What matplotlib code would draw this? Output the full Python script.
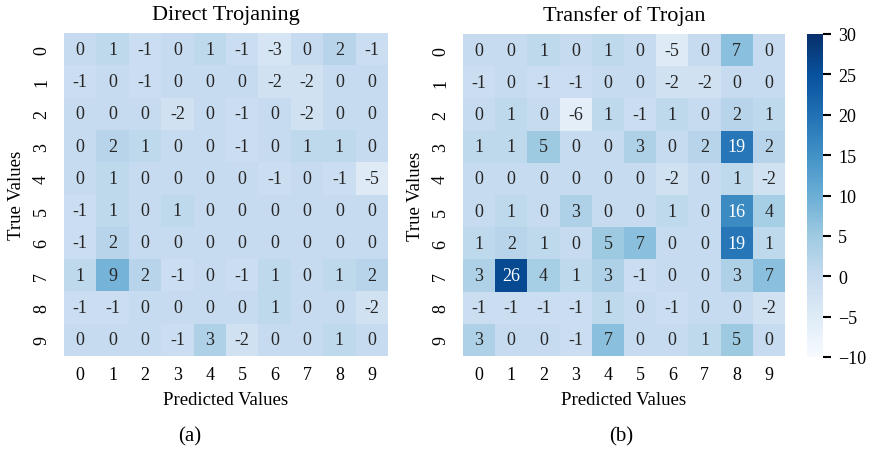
import numpy as np
import matplotlib
matplotlib.use("Agg")
import matplotlib.pyplot as plt
import seaborn as sns

plt.rcParams['font.family'] = ['Liberation Serif', 'DejaVu Serif']
plt.rcParams['axes.unicode_minus'] = True

labels = [str(i) for i in range(10)]

# difference matrices (rows: true class, cols: predicted class)
direct_trojaning = np.array([
    [0, 1, -1, 0, 1, -1, -3, 0, 2, -1],
    [-1, 0, -1, 0, 0, 0, -2, -2, 0, 0],
    [0, 0, 0, -2, 0, -1, 0, -2, 0, 0],
    [0, 2, 1, 0, 0, -1, 0, 1, 1, 0],
    [0, 1, 0, 0, 0, 0, -1, 0, -1, -5],
    [-1, 1, 0, 1, 0, 0, 0, 0, 0, 0],
    [-1, 2, 0, 0, 0, 0, 0, 0, 0, 0],
    [1, 9, 2, -1, 0, -1, 1, 0, 1, 2],
    [-1, -1, 0, 0, 0, 0, 1, 0, 0, -2],
    [0, 0, 0, -1, 3, -2, 0, 0, 1, 0],
])

transfer_trojan = np.array([
    [0, 0, 1, 0, 1, 0, -5, 0, 7, 0],
    [-1, 0, -1, -1, 0, 0, -2, -2, 0, 0],
    [0, 1, 0, -6, 1, -1, 1, 0, 2, 1],
    [1, 1, 5, 0, 0, 3, 0, 2, 19, 2],
    [0, 0, 0, 0, 0, 0, -2, 0, 1, -2],
    [0, 1, 0, 3, 0, 0, 1, 0, 16, 4],
    [1, 2, 1, 0, 5, 7, 0, 0, 19, 1],
    [3, 26, 4, 1, 3, -1, 0, 0, 3, 7],
    [-1, -1, -1, -1, 1, 0, -1, 0, 0, -2],
    [3, 0, 0, -1, 7, 0, 0, 1, 5, 0],
])

vmin, vmax = -10, 30

fig = plt.figure(figsize=(8.74, 4.6), dpi=100)
W, H = 874, 460
ax1 = fig.add_axes([64 / W, 1 - 357 / H, 324 / W, 323 / H])
ax2 = fig.add_axes([463 / W, 1 - 357 / H, 322 / W, 322 / H])
cax = fig.add_axes([807 / W, 1 - 358 / H, 16 / W, 323 / H])

annot_kws = {'fontsize': 13}
sns.heatmap(direct_trojaning, ax=ax1, cmap='Blues', vmin=vmin, vmax=vmax,
            annot=True, fmt='d', annot_kws=annot_kws, cbar=False,
            xticklabels=labels, yticklabels=labels)
sns.heatmap(transfer_trojan, ax=ax2, cmap='Blues', vmin=vmin, vmax=vmax,
            annot=True, fmt='d', annot_kws=annot_kws, cbar=True, cbar_ax=cax,
            xticklabels=labels, yticklabels=labels)

for ax, title in [(ax1, 'Direct Trojaning'), (ax2, 'Transfer of Trojan')]:
    ax.set_title(title, fontsize=16, pad=10)
    ax.set_xlabel('Predicted Values', fontsize=13.5, labelpad=6)
    ax.set_ylabel('True Values', fontsize=13.5, labelpad=6)
    ax.tick_params(axis='x', labelsize=13, length=0, pad=7)
    ax.tick_params(axis='y', labelsize=13, length=0, pad=10)
    for t in ax.get_yticklabels():
        t.set_rotation(90)
        t.set_va('center')

cax.tick_params(labelsize=13, length=6, width=1.5, pad=5)
cax.yaxis.set_ticks([-10, -5, 0, 5, 10, 15, 20, 25, 30])

fig.text(190 / W, 1 - 437 / H, '(a)', ha='center', va='center', fontsize=15)
fig.text(621 / W, 1 - 437 / H, '(b)', ha='center', va='center', fontsize=15)

fig.savefig('out.png', dpi=100)
